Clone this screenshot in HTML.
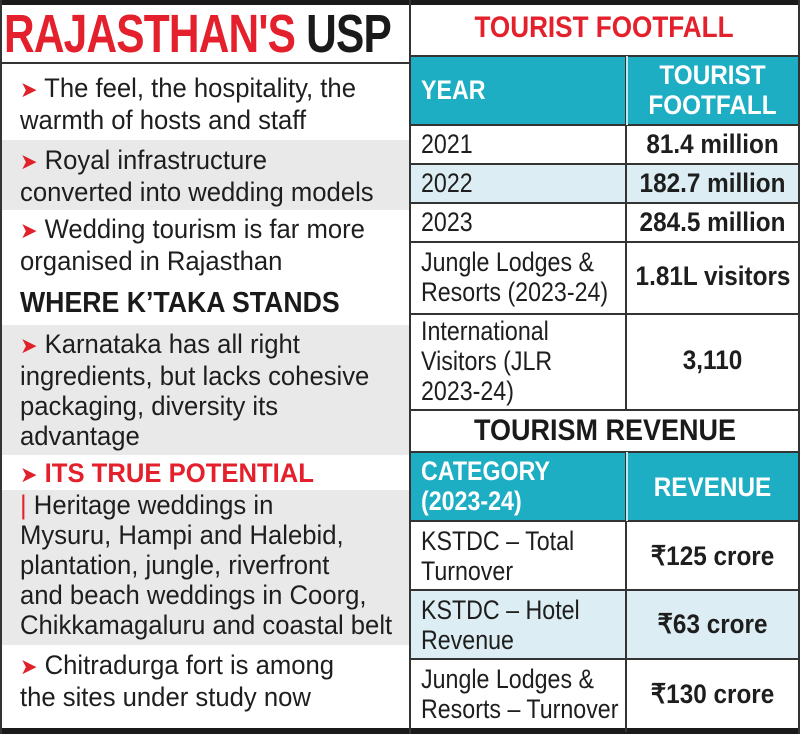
<!DOCTYPE html>
<html><head><meta charset="utf-8"><style>
*{margin:0;padding:0;box-sizing:border-box}
body{width:800px;height:734px;position:relative;background:#fff;overflow:hidden;font-family:"Liberation Sans Narrow","Liberation Sans",sans-serif;color:#1e1e1e}
.a{position:absolute}
.t{font-size:27px;line-height:30px;white-space:nowrap}
.b{font-weight:bold}
.arr{color:#e0202a;font-size:22px}
.g{background:#e9e9e9}
.lb{background:#dcedf3}
.teal{background:#1eaec4;color:#fff;font-weight:bold}
.hl{position:absolute;height:2px;background:#333}
.vl{position:absolute;width:2px;background:#333}
.L{transform:scaleX(0.95);transform-origin:left}
.R{transform:scaleX(0.86);transform-origin:left}
.C{transform:scaleX(0.9);transform-origin:center}
</style></head><body>
<div class="a" style="left:0;top:0;width:800px;height:5px;background:#1a1a1a"></div>
<div class="a" style="left:0;top:728px;width:800px;height:6px;background:#1a1a1a"></div>
<div class="a" style="left:0;top:0;width:2px;height:734px;background:#333"></div>
<div class="a" style="left:798px;top:0;width:2px;height:734px;background:#333"></div>
<div class="vl" style="left:409px;top:0;height:734px"></div>

<!-- LEFT -->
<div class="a b" style="left:4px;top:6px;font-size:54px;line-height:56px;letter-spacing:-1px;white-space:nowrap;transform:scaleX(0.785);transform-origin:left"><span style="color:#e3202b">RAJASTHAN'S</span> <span style="color:#1a1a1a">USP</span></div>
<div class="hl" style="left:0;top:62px;width:410px"></div>
<div class="a g" style="left:2px;top:140px;width:407px;height:70px"></div>
<div class="a g" style="left:2px;top:325px;width:407px;height:130px"></div>
<div class="a g" style="left:2px;top:490px;width:407px;height:155px"></div>

<div class="a t L" style="left:20px;top:73px"><span class="arr">➤</span> The feel, the hospitality, the<br>warmth of hosts and staff</div>
<div class="a t L" style="left:20px;top:145px"><span class="arr">➤</span> Royal infrastructure<br>converted into wedding models</div>
<div class="a t L" style="left:20px;top:214px"><span class="arr">➤</span> Wedding tourism is far more<br>organised in Rajasthan</div>
<div class="a b" style="left:20px;top:286px;font-size:29px;line-height:34px;color:#1a1a1a;white-space:nowrap;transform:scaleX(0.92);transform-origin:left">WHERE K’TAKA STANDS</div>
<div class="a t L" style="left:20px;top:329px"><span class="arr">➤</span> Karnataka has all right<br>ingredients, but lacks cohesive<br>packaging, diversity its<br>advantage</div>
<div class="a t L" style="left:20px;top:458px"><span class="arr">➤</span> <b style="color:#e3202b">ITS TRUE POTENTIAL</b><br><span style="color:#e3202b">|</span> Heritage weddings in<br>Mysuru, Hampi and Halebid,<br>plantation, jungle, riverfront<br>and beach weddings in Coorg,<br>Chikkamagaluru and coastal belt</div>
<div class="a t L" style="left:20px;top:650px"><span class="arr">➤</span> Chitradurga fort is among<br>the sites under study now</div>

<!-- RIGHT -->
<div class="a b" style="left:410px;top:10px;width:388px;text-align:center;font-size:30px;line-height:36px;color:#e3202b;transform:scaleX(0.87);transform-origin:center">TOURIST FOOTFALL</div>
<div class="a teal" style="left:411px;top:56px;width:387px;height:69px"></div>
<div class="a lb" style="left:411px;top:165px;width:387px;height:38px"></div>
<div class="a" style="left:411px;top:452px;width:387px;height:69px;background:#1eaec4"></div>
<div class="a lb" style="left:411px;top:591px;width:387px;height:68px"></div>

<div class="hl" style="left:410px;top:55px;width:390px"></div>
<div class="hl" style="left:410px;top:124px;width:390px"></div>
<div class="hl" style="left:410px;top:163px;width:390px"></div>
<div class="hl" style="left:410px;top:202px;width:390px"></div>
<div class="hl" style="left:410px;top:241px;width:390px"></div>
<div class="hl" style="left:410px;top:313px;width:390px"></div>
<div class="hl" style="left:410px;top:409px;width:390px"></div>
<div class="hl" style="left:410px;top:451px;width:390px"></div>
<div class="hl" style="left:410px;top:520px;width:390px"></div>
<div class="hl" style="left:410px;top:589px;width:390px"></div>
<div class="hl" style="left:410px;top:658px;width:390px"></div>
<div class="vl" style="left:625px;top:56px;height:354px;background:#333"></div>
<div class="vl" style="left:625px;top:452px;height:280px"></div>
<div class="a" style="left:626px;top:56px;width:2px;height:69px;background:#bfe9f0"></div>
<div class="a" style="left:626px;top:452px;width:2px;height:69px;background:#bfe9f0"></div>

<div class="a b R" style="left:421px;top:75px;font-size:27px;line-height:30px;color:#fff">YEAR</div>
<div class="a b C" style="left:627px;top:60px;width:171px;text-align:center;font-size:27px;line-height:30px;color:#fff">TOURIST<br>FOOTFALL</div>

<div class="a t R" style="left:421px;top:129px">2021</div>
<div class="a t b C" style="left:627px;top:129px;width:171px;text-align:center">81.4 million</div>
<div class="a t R" style="left:421px;top:168px">2022</div>
<div class="a t b C" style="left:627px;top:168px;width:171px;text-align:center">182.7 million</div>
<div class="a t R" style="left:421px;top:207px">2023</div>
<div class="a t b C" style="left:627px;top:207px;width:171px;text-align:center">284.5 million</div>
<div class="a t R" style="left:421px;top:247px">Jungle Lodges &amp;<br>Resorts (2023-24)</div>
<div class="a t b C" style="left:627px;top:261px;width:171px;text-align:center">1.81L visitors</div>
<div class="a t R" style="left:421px;top:316px">International<br>Visitors (JLR<br>2023-24)</div>
<div class="a t b C" style="left:627px;top:345px;width:171px;text-align:center">3,110</div>

<div class="a b" style="left:410px;top:414px;width:390px;text-align:center;font-size:30px;line-height:34px;color:#1a1a1a;transform:scaleX(0.9);transform-origin:center">TOURISM REVENUE</div>
<div class="a b R" style="left:421px;top:456px;font-size:27px;line-height:30px;color:#fff">CATEGORY<br>(2023-24)</div>
<div class="a b C" style="left:627px;top:472px;width:171px;text-align:center;font-size:27px;line-height:30px;color:#fff">REVENUE</div>

<div class="a t R" style="left:421px;top:526px">KSTDC – Total<br>Turnover</div>
<div class="a t b C" style="left:627px;top:541px;width:171px;text-align:center">₹125 crore</div>
<div class="a t R" style="left:421px;top:595px">KSTDC – Hotel<br>Revenue</div>
<div class="a t b C" style="left:627px;top:609px;width:171px;text-align:center">₹63 crore</div>
<div class="a t R" style="left:421px;top:664px">Jungle Lodges &amp;<br>Resorts – Turnover</div>
<div class="a t b C" style="left:627px;top:679px;width:171px;text-align:center">₹130 crore</div>
</body></html>
